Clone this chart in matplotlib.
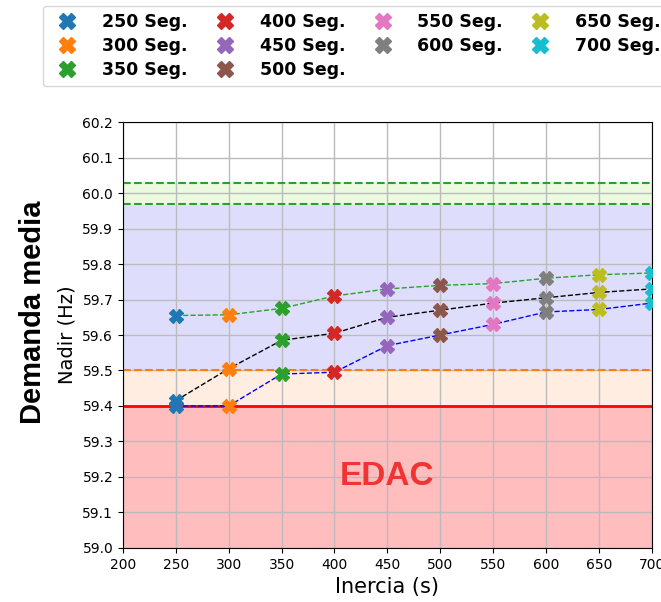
# Nadir de frecuencia vs inercia - demanda media
import numpy as np
import matplotlib.pyplot as plt

inercia = [250, 300, 350, 400, 450, 500, 550, 600, 650, 700]
etiquetas = ['250 Seg.', '300 Seg.', '350 Seg.', '400 Seg.', '450 Seg.',
             '500 Seg.', '550 Seg.', '600 Seg.', '650 Seg.', '700 Seg.']
nadir_alto = [59.655, 59.657, 59.675, 59.71, 59.73, 59.74, 59.745, 59.76, 59.77, 59.775]
nadir_medio = [59.415, 59.505, 59.585, 59.605, 59.65, 59.67, 59.69, 59.705, 59.72, 59.73]
nadir_bajo = [59.40, 59.40, 59.49, 59.495, 59.57, 59.60, 59.63, 59.665, 59.672, 59.69]

colores = plt.cm.tab10.colors

fig = plt.figure(figsize=(6.61, 6.02), dpi=100)
ax = fig.add_axes([0.186, 0.09, 0.80, 0.707])

# bandas
ax.axhspan(59.0, 59.4, color='#ffbdbd', zorder=0)
ax.axhspan(59.4, 59.5, color='#ffede2', zorder=0)
ax.axhspan(59.5, 59.97, color='#dedefc', zorder=0)
ax.axhspan(59.97, 60.03, color='#ecfadf', zorder=0)
ax.axhline(59.4, color='red', lw=2, zorder=1)
ax.axhline(59.5, color='tab:orange', ls='--', lw=1.5, zorder=1)
ax.axhline(59.97, color='tab:green', ls='--', lw=1.5, zorder=1)
ax.axhline(60.03, color='tab:green', ls='--', lw=1.5, zorder=1)

ax.plot(inercia, nadir_alto, '--', color='tab:green', lw=1, zorder=2)
ax.plot(inercia, nadir_medio, '--', color='black', lw=1, zorder=2)
ax.plot(inercia, nadir_bajo, '--', color='blue', lw=1, zorder=2)

for i, x in enumerate(inercia):
    ax.plot([x, x, x], [nadir_alto[i], nadir_medio[i], nadir_bajo[i]], 'X',
            color=colores[i], ms=10, ls='none', label=etiquetas[i], zorder=3)

ax.text(450, 59.2, 'EDAC', color='#f03434', fontsize=24, fontweight='bold',
        family='Liberation Sans', ha='center', va='center')

ax.set_xlim(200, 700)
ax.set_ylim(59.0, 60.2)
ax.set_xticks(np.arange(200, 701, 50))
ax.set_yticks(np.arange(59.0, 60.21, 0.1))
ax.set_yticklabels(['%.1f' % v for v in np.arange(59.0, 60.21, 0.1)])
ax.tick_params(labelsize=10)
ax.grid(True, color='#bbbbbb', lw=1)
ax.set_axisbelow(True)
ax.set_xlabel('Inercia (s)', fontsize=15)
ax.set_ylabel('Nadir (Hz)', fontsize=14)
fig.text(0.05, 0.482, 'Demanda media', rotation=90, fontsize=21,
         fontweight='bold', family='Liberation Sans', ha='center', va='center')

fig.legend(loc='upper left', bbox_to_anchor=(0.065, 0.99), ncol=4,
           prop={'weight': 'bold', 'size': 12.5}, columnspacing=1.15,
           handlelength=2.0, handletextpad=1.0, labelspacing=0.35,
           borderpad=0.4, borderaxespad=0, markerscale=1.15)

plt.savefig('out.png')
